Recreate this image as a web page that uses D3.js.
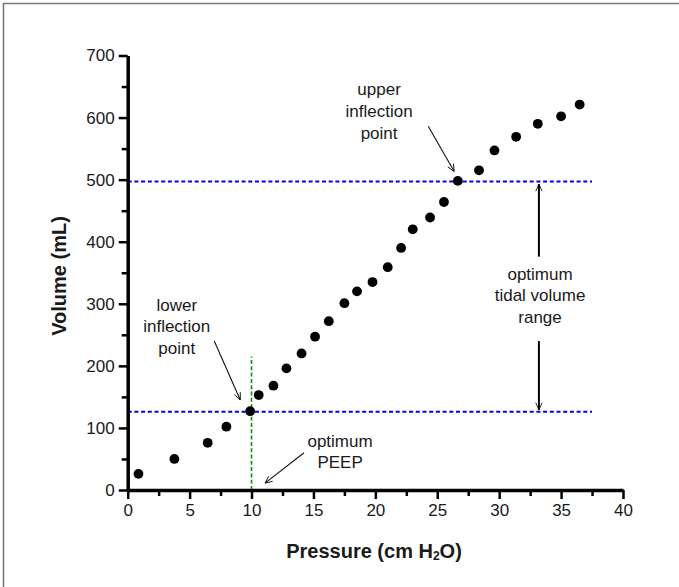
<!DOCTYPE html>
<html>
<head>
<meta charset="utf-8">
<script src="https://cdn.jsdelivr.net/npm/d3@7"></script>
<style>
  body { margin: 0; background: #fff; }
  svg text { font-family: "Liberation Sans", Arial, sans-serif; fill: #1a1a1a; }
</style>
</head>
<body>
<div id="chart"></div>
<script>
// ------------------------- data
var pressure = [0.87, 3.77, 6.46, 7.97, 9.89, 10.58, 11.77, 12.82, 14.04, 15.13, 16.24, 17.5, 18.52,
                19.77, 21.0, 22.08, 23.02, 24.42, 25.54, 26.66, 28.37, 29.62, 31.37, 33.12, 35.0, 36.5];
var volume = [26, 50, 76, 102, 127, 153, 168, 196, 220, 247, 272, 301, 320,
              335, 359, 390, 420, 439, 464, 498, 515, 547, 569, 590, 602, 621];

var xTicks = [0, 5, 10, 15, 20, 25, 30, 35, 40];
var xMinor = [2.5, 7.5, 12.5, 17.5, 22.5, 27.5, 32.5, 37.5];
var yTicks = [0, 100, 200, 300, 400, 500, 600, 700];
var yMinor = [50, 150, 250, 350, 450, 550, 650];

var lowerIP = 126;     // lower inflection volume
var upperIP = 497;     // upper inflection volume
var rangeEnd = 37.5;   // where the blue lines stop
var peep = 10;
var peepTop = 215;

// annotation texts: [x, y of first baseline, lines]
var notes = [
    [20.3, 636, ["upper", "inflection", "point"]],
    [3.96, 289, ["lower", "inflection", "point"]],
    [17.15, 70, ["optimum", "PEEP"]],
    [33.3, 339, ["optimum", "tidal volume", "range"]]
];
// thin arrows: [x1, y1, x2, y2]
var thinArrows = [
    [24.27, 586, 26.37, 513],
    [6.99, 240, 9.09, 145],
    [14.24, 60, 11.09, 11]
];
// range arrows
var rangeArrows = [
    [33.21, 376, 33.21, 493],
    [33.21, 240, 33.21, 129]
];

function drawChart() {
    var svgWidth = 679;
    var svgHeight = 587;

    var svg = d3.select('#chart').append('svg')
        .attr('width', svgWidth)
        .attr('height', svgHeight);

    // grey frame on top and left only
    svg.append('path')
        .attr('d', 'M3.5,587V3.5H679')
        .attr('fill', 'none')
        .attr('stroke', '#7a7a7a')
        .attr('stroke-width', 1.6);

    var x = d3.scaleLinear().domain([0, 40]).range([127.7, 623]);
    var y = d3.scaleLinear().domain([0, 700]).range([490, 55.5]);

    var defs = svg.append('defs');
    defs.append('marker')
        .attr('id', 'head')
        .attr('markerUnits', 'userSpaceOnUse')
        .attr('viewBox', '0 0 10 10')
        .attr('refX', 10).attr('refY', 5)
        .attr('markerWidth', 8).attr('markerHeight', 8)
        .attr('orient', 'auto')
        .append('path')
        .attr('d', 'M1,1 L10,5 L1,9')
        .attr('fill', 'none')
        .attr('stroke', '#111')
        .attr('stroke-width', 1.1);

    // dashed reference lines
    svg.selectAll('.hline')
        .data([upperIP, lowerIP])
        .enter().append('line')
        .attr('class', 'hline')
        .attr('x1', x(0)).attr('x2', x(rangeEnd))
        .attr('y1', function(d) { return y(d); })
        .attr('y2', function(d) { return y(d); })
        .attr('stroke', '#0000f0')
        .attr('stroke-width', 2)
        .attr('stroke-dasharray', '4,2.7');

    svg.append('line')
        .attr('x1', x(peep)).attr('x2', x(peep))
        .attr('y1', y(0)).attr('y2', y(peepTop))
        .attr('stroke', '#138a13')
        .attr('stroke-width', 1.6)
        .attr('stroke-dasharray', '4,2.3');

    // axes
    svg.append('g')
        .attr('transform', 'translate(0,' + y(0) + ')')
        .call(d3.axisBottom(x).tickValues(xTicks).tickSize(9).tickSizeOuter(0).tickPadding(5));
    svg.append('g')
        .attr('transform', 'translate(0,' + y(0) + ')')
        .call(d3.axisBottom(x).tickValues(xMinor).tickSize(6).tickSizeOuter(0).tickFormat(''))
        .select('.domain').remove();

    svg.append('g')
        .attr('transform', 'translate(' + x(0) + ',0)')
        .call(d3.axisLeft(y).tickValues(yTicks).tickSize(9).tickSizeOuter(0).tickPadding(4));
    svg.append('g')
        .attr('transform', 'translate(' + x(0) + ',0)')
        .call(d3.axisLeft(y).tickValues(yMinor).tickSize(6).tickSizeOuter(0).tickFormat(''))
        .select('.domain').remove();

    svg.selectAll('.domain').attr('stroke', '#000').attr('stroke-width', 3.5);
    svg.selectAll('.tick line').attr('stroke', '#000').attr('stroke-width', 2.5);
    svg.selectAll('.tick text')
        .attr('font-size', null)
        .style('font-size', '17px')
        .style('font-family', '"Liberation Sans", Arial, sans-serif')
        .attr('fill', '#1a1a1a');

    // axis titles
    svg.append('text')
        .attr('transform', 'translate(66,276) rotate(-90)')
        .attr('text-anchor', 'middle')
        .style('font-size', '20px')
        .style('font-weight', 'bold')
        .text('Volume (mL)');

    var xt = svg.append('text')
        .attr('x', 374).attr('y', 558)
        .attr('text-anchor', 'middle')
        .style('font-size', '20px')
        .style('font-weight', 'bold');
    xt.append('tspan').text('Pressure (cm H');
    xt.append('tspan').text('2').style('font-size', '12px').attr('dy', 2);
    xt.append('tspan').text('O)').attr('dy', -2);

    // annotations
    notes.forEach(function(n) {
        var t = svg.append('text')
            .attr('text-anchor', 'middle')
            .style('font-size', '17px');
        n[2].forEach(function(line, i) {
            t.append('tspan')
                .attr('x', x(n[0]))
                .attr('y', y(n[1]) + i * 21.7)
                .text(line);
        });
    });

    svg.selectAll('.thin')
        .data(thinArrows)
        .enter().append('line')
        .attr('class', 'thin')
        .attr('x1', function(d) { return x(d[0]); })
        .attr('y1', function(d) { return y(d[1]); })
        .attr('x2', function(d) { return x(d[2]); })
        .attr('y2', function(d) { return y(d[3]); })
        .attr('stroke', '#111')
        .attr('stroke-width', 1.1)
        .attr('marker-end', 'url(#head)');

    svg.selectAll('.range')
        .data(rangeArrows)
        .enter().append('line')
        .attr('class', 'range')
        .attr('x1', function(d) { return x(d[0]); })
        .attr('y1', function(d) { return y(d[1]); })
        .attr('x2', function(d) { return x(d[2]); })
        .attr('y2', function(d) { return y(d[3]); })
        .attr('stroke', '#000')
        .attr('stroke-width', 2)
        .attr('marker-end', 'url(#head)');

    // points
    svg.selectAll('circle')
        .data(pressure)
        .enter().append('circle')
        .attr('cx', function(d) { return x(d); })
        .attr('cy', function(d, i) { return y(volume[i]); })
        .attr('r', 4.9)
        .attr('fill', '#000');
}

drawChart();
</script>
</body>
</html>
